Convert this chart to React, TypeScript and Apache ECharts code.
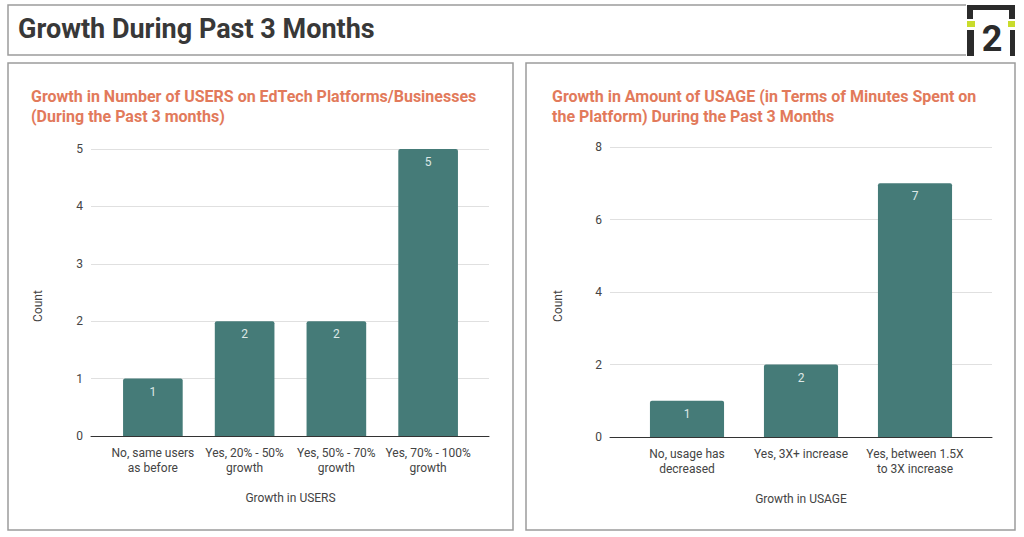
import React, { useEffect, useRef } from "react";
import * as echarts from "echarts";

const pageTitle = "Growth During Past 3 Months";

const usersTitle = "Growth in Number of USERS on EdTech Platforms/Businesses\n(During the Past 3 months)";
const usersCategories = [
  "No, same users\nas before",
  "Yes, 20% - 50%\ngrowth",
  "Yes, 50% - 70%\ngrowth",
  "Yes, 70% - 100%\ngrowth",
];
const usersCounts = [1, 2, 2, 5];
const usersAxisName = "Growth in USERS";

const usageTitle = "Growth in Amount of USAGE (in Terms of Minutes Spent on\nthe Platform) During the Past 3 Months";
const usageCategories = [
  "No, usage has\ndecreased",
  "Yes, 3X+ increase",
  "Yes, between 1.5X\nto 3X increase",
];
const usageCounts = [1, 2, 7];
const usageAxisName = "Growth in USAGE";

const yAxisName = "Count";

const BAR = "#457b78";
const TITLE_ORANGE = "#e27a5b";
const BORDER = "#9c9c9c";
const FONT = "Roboto, 'Noto Sans', sans-serif";

export default function App() {
  const ref = useRef<HTMLDivElement>(null);

  useEffect(() => {
    if (!ref.current) return;
    const chart = echarts.init(ref.current, undefined, { renderer: "svg" });

    const lineGrid = (left: number, width: number, top: number, height: number) => ({
      left, width, top, height, containLabel: false,
    });

    const option: any = {
      animation: false,
      backgroundColor: "#ffffff",
      textStyle: { fontFamily: FONT },
      grid: [
        lineGrid(91, 398, 149, 287),
        lineGrid(107, 367, 149, 287),
        lineGrid(610, 382, 147, 290),
        lineGrid(630, 342, 147, 290),
      ],
      xAxis: [
        {
          gridIndex: 0, type: "category", data: [""],
          axisLine: { show: true, lineStyle: { color: "#333333", width: 1 } },
          axisTick: { show: false }, axisLabel: { show: false },
        },
        {
          gridIndex: 1, type: "category", data: usersCategories,
          axisLine: { show: false }, axisTick: { show: false },
          axisLabel: { color: "#444444", fontSize: 12, lineHeight: 15, margin: 9, interval: 0, fontFamily: FONT },
          name: usersAxisName, nameLocation: "middle", nameGap: 56,
          nameTextStyle: { color: "#444444", fontSize: 12, fontFamily: FONT },
        },
        {
          gridIndex: 2, type: "category", data: [""],
          axisLine: { show: true, lineStyle: { color: "#333333", width: 1 } },
          axisTick: { show: false }, axisLabel: { show: false },
        },
        {
          gridIndex: 3, type: "category", data: usageCategories,
          axisLine: { show: false }, axisTick: { show: false },
          axisLabel: { color: "#444444", fontSize: 12, lineHeight: 15, margin: 9, interval: 0, fontFamily: FONT },
          name: usageAxisName, nameLocation: "middle", nameGap: 56,
          nameTextStyle: { color: "#444444", fontSize: 12, fontFamily: FONT },
        },
      ],
      yAxis: [
        {
          gridIndex: 0, type: "value", min: 0, max: 5, interval: 1,
          axisLine: { show: false }, axisTick: { show: false },
          axisLabel: { color: "#444444", fontSize: 12, margin: 8, fontFamily: FONT },
          splitLine: { lineStyle: { color: "#e0e0e0", width: 1 } },
        },
        { gridIndex: 1, type: "value", min: 0, max: 5, show: false },
        {
          gridIndex: 2, type: "value", min: 0, max: 8, interval: 2,
          axisLine: { show: false }, axisTick: { show: false },
          axisLabel: { color: "#444444", fontSize: 12, margin: 8, fontFamily: FONT },
          splitLine: { lineStyle: { color: "#e0e0e0", width: 1 } },
        },
        { gridIndex: 3, type: "value", min: 0, max: 8, show: false },
      ],
      series: [
        {
          type: "bar", xAxisIndex: 1, yAxisIndex: 1, data: usersCounts,
          barWidth: "65%",
          itemStyle: { color: BAR, borderRadius: [2, 2, 0, 0] },
          label: { show: true, position: "insideTop", distance: 7, color: "#dde8e7", fontSize: 12, fontFamily: FONT },
        },
        {
          type: "bar", xAxisIndex: 3, yAxisIndex: 3, data: usageCounts,
          barWidth: "65%",
          itemStyle: { color: BAR, borderRadius: [2, 2, 0, 0] },
          label: { show: true, position: "insideTop", distance: 7, color: "#dde8e7", fontSize: 12, fontFamily: FONT },
        },
      ],
      graphic: [
        // header box
        { type: "rect", shape: { x: 8, y: 5, width: 1007, height: 50 }, style: { fill: "#fff", stroke: BORDER, lineWidth: 1.5 }, z: 1 },
        { type: "text", x: 18, y: 29, style: { text: pageTitle, fill: "#383838", font: `bold 27px ${FONT}`, verticalAlign: "middle" }, z: 2 },
        // logo
        { type: "rect", shape: { x: 966, y: 4, width: 51, height: 53 }, style: { fill: "#fff" }, z: 3 },
        { type: "rect", shape: { x: 967, y: 5, width: 48, height: 5 }, style: { fill: "#2b2b2b" }, z: 4 },
        { type: "rect", shape: { x: 967, y: 5, width: 6, height: 14 }, style: { fill: "#2b2b2b" }, z: 4 },
        { type: "rect", shape: { x: 1009, y: 5, width: 6, height: 14 }, style: { fill: "#2b2b2b" }, z: 4 },
        { type: "rect", shape: { x: 967, y: 21, width: 8, height: 6 }, style: { fill: "#c9dc2c" }, z: 4 },
        { type: "rect", shape: { x: 1008, y: 21, width: 7, height: 6 }, style: { fill: "#c9dc2c" }, z: 4 },
        { type: "rect", shape: { x: 967, y: 30, width: 7, height: 26 }, style: { fill: "#2b2b2b" }, z: 4 },
        { type: "rect", shape: { x: 1010, y: 30, width: 5, height: 26 }, style: { fill: "#2b2b2b" }, z: 4 },
        { type: "text", x: 992, y: 39, style: { text: "2", fill: "#2b2b2b", font: `bold 36px ${FONT}`, align: "center", verticalAlign: "middle" }, z: 4 },
        // panels
        { type: "rect", shape: { x: 8, y: 63, width: 505, height: 467 }, style: { fill: "none", stroke: BORDER, lineWidth: 1.5 }, z: 1 },
        { type: "rect", shape: { x: 526, y: 63, width: 489, height: 467 }, style: { fill: "none", stroke: BORDER, lineWidth: 1.5 }, z: 1 },
        // chart titles
        { type: "text", x: 31, y: 106, style: { text: usersTitle, fill: TITLE_ORANGE, font: `bold 16px ${FONT}`, lineHeight: 20, verticalAlign: "middle" }, z: 2 },
        { type: "text", x: 552, y: 106, style: { text: usageTitle, fill: TITLE_ORANGE, font: `bold 16px ${FONT}`, lineHeight: 20, verticalAlign: "middle" }, z: 2 },
        // y axis names
        { type: "text", x: 38, y: 306, rotation: Math.PI / 2, style: { text: yAxisName, fill: "#444444", font: `12px ${FONT}`, align: "center", verticalAlign: "middle" }, z: 2 },
        { type: "text", x: 558, y: 306, rotation: Math.PI / 2, style: { text: yAxisName, fill: "#444444", font: `12px ${FONT}`, align: "center", verticalAlign: "middle" }, z: 2 },
      ],
    };

    chart.setOption(option);
    return () => chart.dispose();
  }, []);

  return (
    <div
      ref={ref}
      style={{ position: "fixed", left: 0, top: 0, width: 1024, height: 537 }}
    />
  );
}
